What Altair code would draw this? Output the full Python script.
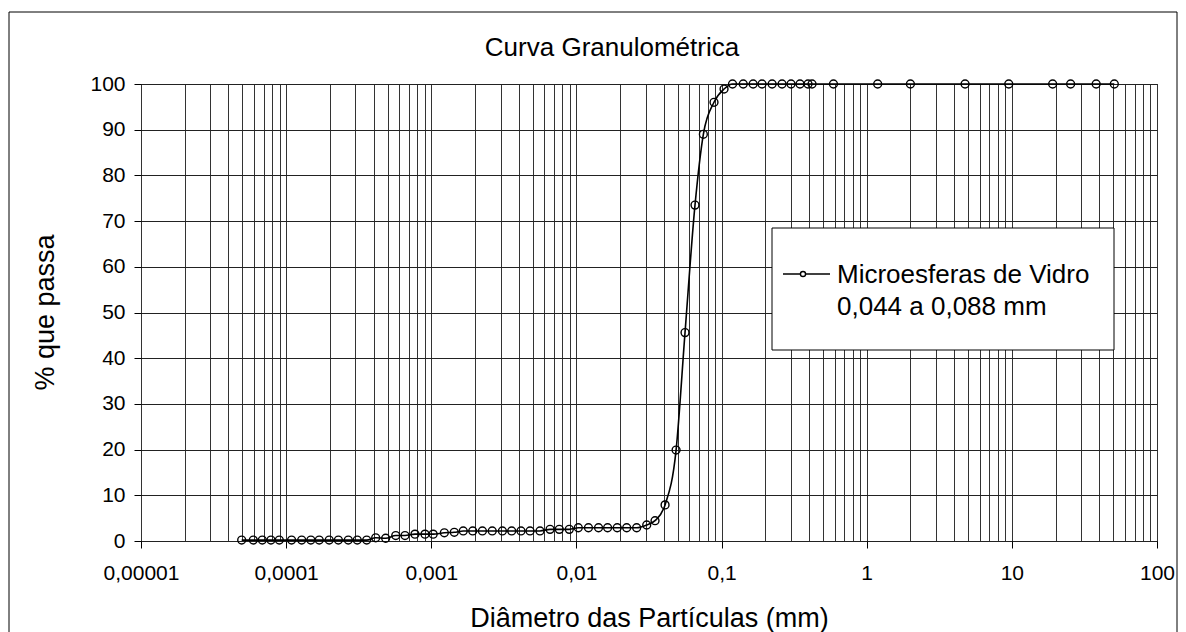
import math

import altair as alt
import pandas as pd

# Particle size distribution: laser diffraction points followed by sieve sizes
DIAMETRO_MM = [
    0.0000494, 0.0000594, 0.0000685, 0.0000786, 0.0000897, 0.000109, 0.000128,
    0.000148, 0.000169, 0.000198, 0.000229, 0.000268, 0.000309, 0.000359,
    0.000414, 0.000485, 0.000569, 0.000659, 0.000772, 0.000905, 0.00103,
    0.00123, 0.00144, 0.00166, 0.00193, 0.00225, 0.00263, 0.00309, 0.00358,
    0.00415, 0.00479, 0.00561, 0.00658, 0.00762, 0.00893, 0.0103, 0.0121,
    0.0142, 0.0164, 0.0191, 0.0222, 0.0260, 0.0305, 0.0348, 0.0408, 0.0486,
    0.0560, 0.0656, 0.0749, 0.0887, 0.104, 0.119, 0.141, 0.165, 0.190, 0.223,
    0.261, 0.301, 0.347, 0.394, 0.42, 0.59, 1.19, 2.0, 4.76, 9.52, 19.1, 25.4,
    38.1, 50.8,
]
PERC_PASSA = [
    0.2, 0.2, 0.2, 0.2, 0.2, 0.2, 0.2,
    0.2, 0.2, 0.2, 0.2, 0.2, 0.2, 0.2,
    0.7, 0.6, 1.2, 1.2, 1.5, 1.5, 1.5,
    1.8, 1.9, 2.2, 2.2, 2.2, 2.2, 2.2, 2.2,
    2.2, 2.2, 2.2, 2.55, 2.55, 2.55, 2.9, 2.9,
    2.9, 2.9, 2.9, 2.9, 2.9, 3.5, 4.45, 7.9, 19.9,
    45.6, 73.5, 89.0, 96.0, 98.9, 100, 100, 100, 100, 100,
    100, 100, 100, 100, 100, 100, 100, 100, 100, 100, 100, 100,
    100, 100,
]

TITULO = "Curva Granulométrica"
TITULO_X = "Diâmetro das Partículas (mm)"
TITULO_Y = "% que passa"
SERIE = ["Microesferas de Vidro", "0,044 a 0,088 mm"]

# Axis values
DECADAS = [0.00001, 0.0001, 0.001, 0.01, 0.1, 1, 10, 100]
ROTULOS_DECADAS = ["0,00001", "0,0001", "0,001", "0,01", "0,1", "1", "10", "100"]
GRADE_X = [m * d for d in DECADAS[:-1] for m in range(1, 10)] + [100]
TICKS_Y = list(range(0, 101, 10))

FONT = "Liberation Sans"

df = pd.DataFrame({"d": DIAMETRO_MM, "p": PERC_PASSA})

# label expression: decade exponent -> decimal-comma text, blank for minor lines
exp_expr = "round(log(datum.value) / LN10)"
is_decade = f"abs(log(datum.value) / LN10 - {exp_expr}) < 1e-6"
label_expr = "''"
for d, lab in zip(reversed(DECADAS), reversed(ROTULOS_DECADAS)):
    e = round(math.log10(d))
    label_expr = f"({exp_expr} == {e} ? '{lab}' : {label_expr})"
label_expr = f"{is_decade} ? {label_expr} : ''"

x_scale = alt.Scale(type="log", domain=[DECADAS[0], DECADAS[-1]], nice=False)
y_scale = alt.Scale(domain=[0, 100], nice=False)

x_axis = alt.Axis(
    values=GRADE_X,
    labelExpr=label_expr,
    title=TITULO_X,
    titleFont=FONT, titleFontSize=27, titleFontWeight="normal", titleColor="black",
    titleY=77, titleBaseline="middle",
    labelFont=FONT, labelFontSize=21, labelColor="black", labelPadding=14,
    labelFlush=False, labelOverlap=False,
    tickSize=7, tickColor="black",
    tickOpacity=alt.ConditionalAxisNumber(condition={"test": is_decade, "value": 1}, value=0),
    grid=True, gridColor="#333333", gridWidth=1,
    domain=False,
)
y_axis = alt.Axis(
    values=TICKS_Y,
    title=TITULO_Y,
    titleFont=FONT, titleFontSize=27, titleFontWeight="normal", titleColor="black",
    titleX=-96, titleY=228, titleAngle=-90, titleBaseline="middle", titleAlign="center",
    labelFont=FONT, labelFontSize=21, labelColor="black", labelPadding=9,
    tickSize=7, tickColor="black",
    grid=True, gridColor="#222222", gridWidth=1,
    domain=False,
)

base = alt.Chart(df)

linha = base.mark_line(interpolate="monotone", color="black", strokeWidth=1.6).encode(
    x=alt.X("d:Q", scale=x_scale, axis=x_axis),
    y=alt.Y("p:Q", scale=y_scale, axis=y_axis),
)
pontos = base.mark_point(shape="circle", filled=False, size=62, color="black",
                         strokeWidth=1.4, opacity=1).encode(
    x=alt.X("d:Q", scale=x_scale),
    y=alt.Y("p:Q", scale=y_scale),
)

one = alt.Data(values=[{"k": 0}])

# outer chart frame
moldura = alt.Chart(one).mark_rect(fillOpacity=0, stroke="black", strokeWidth=1).encode(
    x=alt.value(-132), x2=alt.value(1036), y=alt.value(-72), y2=alt.value(560)
)

titulo = alt.Chart(alt.Data(values=[{"t": TITULO}])).mark_text(
    font=FONT, fontSize=26, color="black", align="center", baseline="middle"
).encode(x=alt.value(471), y=alt.value(-36), text="t:N")

# legend box
caixa = alt.Chart(one).mark_rect(fill="white", stroke="black", strokeWidth=1).encode(
    x=alt.value(631), x2=alt.value(973), y=alt.value(144), y2=alt.value(266)
)
leg_linha = alt.Chart(one).mark_rule(color="black", strokeWidth=1.6).encode(
    x=alt.value(642), x2=alt.value(689), y=alt.value(190)
)
leg_ponto = alt.Chart(one).mark_point(shape="circle", filled=True, fill="white",
                                      stroke="black", strokeWidth=1.4, size=26, opacity=1).encode(
    x=alt.value(662), y=alt.value(190)
)
leg_txt1 = alt.Chart(alt.Data(values=[{"t": SERIE[0]}])).mark_text(
    font=FONT, fontSize=26, color="black", align="left", baseline="alphabetic"
).encode(x=alt.value(696), y=alt.value(199), text="t:N")
leg_txt2 = alt.Chart(alt.Data(values=[{"t": SERIE[1]}])).mark_text(
    font=FONT, fontSize=26, color="black", align="left", baseline="alphabetic"
).encode(x=alt.value(696), y=alt.value(231), text="t:N")

chart = alt.layer(
    moldura, titulo, linha, pontos, caixa, leg_linha, leg_ponto, leg_txt1, leg_txt2
).properties(
    width=1016,
    height=457,
    autosize=alt.AutoSizeParams(type="none"),
    padding={"left": 141, "top": 84, "right": 29, "bottom": 91},
    background="white",
).configure_view(
    stroke="black", strokeWidth=1
)

chart.save("out.html", embed_options={"renderer": "svg", "actions": False})
